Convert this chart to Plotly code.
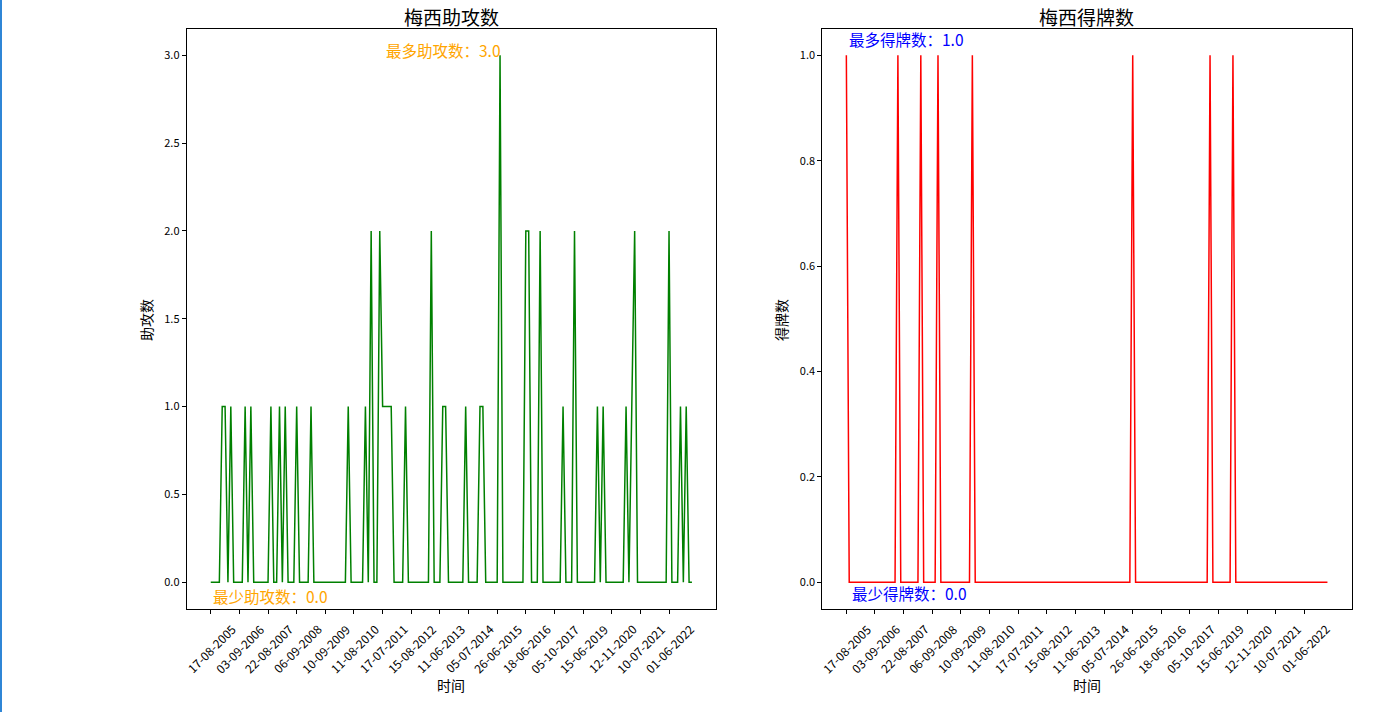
import plotly.graph_objects as go

# ---------------- data ----------------
tick_labels = ["17-08-2005", "03-09-2006", "22-08-2007", "06-09-2008", "10-09-2009",
               "11-08-2010", "17-07-2011", "15-08-2012", "11-06-2013", "05-07-2014",
               "26-06-2015", "18-06-2016", "05-10-2017", "15-06-2019", "12-11-2020",
               "10-07-2021", "01-06-2022"]

assists = [0, 0, 0, 0, 1, 1, 0, 1, 0, 0,
           0, 0, 1, 0, 1, 0, 0, 0, 0, 0,
           0, 1, 0, 0, 1, 0, 1, 0, 0, 0,
           1, 0, 0, 0, 0, 1, 0, 0, 0, 0,
           0, 0, 0, 0, 0, 0, 0, 0, 1, 0,
           0, 0, 0, 0, 1, 0, 2, 0, 0, 2,
           1, 1, 1, 1, 0, 0, 0, 0, 1, 0,
           0, 0, 0, 0, 0, 0, 0, 2, 0, 0,
           0, 1, 1, 0, 0, 0, 0, 0, 0, 1,
           0, 0, 0, 0, 1, 1, 0, 0, 0, 0,
           0, 3, 0, 0, 0, 0, 0, 0, 0, 0,
           2, 2, 0, 0, 0, 2, 0, 0, 0, 0,
           0, 0, 0, 1, 0, 0, 0, 2, 0, 0,
           0, 0, 0, 0, 0, 1, 0, 1, 0, 0,
           0, 0, 0, 0, 0, 1, 0, 1, 2, 0,
           0, 0, 0, 0, 0, 0, 0, 0, 0, 0,
           2, 0, 0, 0, 1, 0, 1, 0, 0]

cards = [1, 0, 0, 0, 0, 0, 0, 0, 0, 0,
         0, 0, 0, 0, 0, 0, 0, 0, 1, 0,
         0, 0, 0, 0, 0, 0, 1, 0, 0, 0,
         0, 0, 1, 0, 0, 0, 0, 0, 0, 0,
         0, 0, 0, 0, 1, 0, 0, 0, 0, 0,
         0, 0, 0, 0, 0, 0, 0, 0, 0, 0,
         0, 0, 0, 0, 0, 0, 0, 0, 0, 0,
         0, 0, 0, 0, 0, 0, 0, 0, 0, 0,
         0, 0, 0, 0, 0, 0, 0, 0, 0, 0,
         0, 0, 0, 0, 0, 0, 0, 0, 0, 0,
         1, 0, 0, 0, 0, 0, 0, 0, 0, 0,
         0, 0, 0, 0, 0, 0, 0, 0, 0, 0,
         0, 0, 0, 0, 0, 0, 0, 1, 0, 0,
         0, 0, 0, 0, 0, 1, 0, 0, 0, 0,
         0, 0, 0, 0, 0, 0, 0, 0, 0, 0,
         0, 0, 0, 0, 0, 0, 0, 0, 0, 0,
         0, 0, 0, 0, 0, 0, 0, 0, 0]

matches = list(range(len(assists)))
tick_pos = matches[::10][:len(tick_labels)]

# ---------------- figure ----------------
FONT = "Noto Sans CJK SC"
W, H = 1381, 712

def px(xp):
    return xp / W

def py(yp):
    return 1 - yp / H

fig = go.Figure()
fig.add_trace(go.Scatter(x=matches, y=assists, mode="lines",
                         line=dict(color="#008000", width=1.5),
                         xaxis="x", yaxis="y", showlegend=False, hoverinfo="skip"))
fig.add_trace(go.Scatter(x=matches, y=cards, mode="lines",
                         line=dict(color="#ff0000", width=1.5),
                         xaxis="x2", yaxis="y2", showlegend=False, hoverinfo="skip"))

n = len(matches) - 1
xr = [-0.05 * n, n + 0.05 * n]

common = dict(showline=True, linecolor="black", linewidth=1, mirror=True,
              ticks="outside", ticklen=4, tickwidth=1, tickcolor="black",
              showgrid=False, zeroline=False,
              tickfont=dict(family=FONT, size=11, color="black"))

ydom = [py(608.5), py(29)]
dom1 = [px(186.7), px(716)]
dom2 = [px(822.3), px(1351.5)]

fig.update_layout(
    width=W, height=H, margin=dict(l=0, r=0, t=0, b=0),
    paper_bgcolor="white", plot_bgcolor="white",
    xaxis=dict(domain=dom1, range=xr, tickvals=tick_pos, showticklabels=False,
               anchor="y", **common),
    yaxis=dict(domain=ydom, range=[-0.15, 3.15], tickvals=[0, 0.5, 1, 1.5, 2, 2.5, 3],
               tickformat=".1f", anchor="x", **common),
    xaxis2=dict(domain=dom2, range=xr, tickvals=tick_pos, showticklabels=False,
                anchor="y2", **common),
    yaxis2=dict(domain=ydom, range=[-0.05, 1.05], tickvals=[0, 0.2, 0.4, 0.6, 0.8, 1.0],
                tickformat=".1f", anchor="x2", **common),
)

ann = []
# rotated x tick labels (centered under ticks)
for xref in ["x", "x2"]:
    for p, lab in zip(tick_pos, tick_labels):
        ann.append(dict(x=p, xref=xref, y=py(648), yref="paper", text=lab,
                        textangle=-45, showarrow=False, xanchor="center", yanchor="middle",
                        font=dict(family=FONT, size=12, color="black")))

# titles
for dom, t in [(dom1, "梅西助攻数"), (dom2, "梅西得牌数")]:
    ann.append(dict(x=(dom[0] + dom[1]) / 2, xref="paper", y=py(16), yref="paper", text=t,
                    showarrow=False, xanchor="center", yanchor="middle",
                    font=dict(family=FONT, size=19, color="black")))
    ann.append(dict(x=(dom[0] + dom[1]) / 2, xref="paper", y=py(685), yref="paper", text="时间",
                    showarrow=False, xanchor="center", yanchor="middle",
                    font=dict(family=FONT, size=14, color="black")))
ann.append(dict(x=px(146), xref="paper", y=py(320), yref="paper", text="助攻数", textangle=-90,
                showarrow=False, xanchor="center", yanchor="middle",
                font=dict(family=FONT, size=14, color="black")))
ann.append(dict(x=px(781), xref="paper", y=py(320), yref="paper", text="得牌数", textangle=-90,
                showarrow=False, xanchor="center", yanchor="middle",
                font=dict(family=FONT, size=14, color="black")))

# max / min notes
a_max, a_min = max(assists), min(assists)
c_max, c_min = max(cards), min(cards)
NOTE = 15.5
ann.append(dict(x=assists.index(a_max), xref="x", y=a_max, yref="y",
                text=f"最多助攻数：{float(a_max):.1f}", showarrow=False,
                xanchor="right", yanchor="middle", xshift=3, yshift=5,
                font=dict(family=FONT, size=NOTE, color="#FFA500")))
ann.append(dict(x=assists.index(a_min), xref="x", y=a_min, yref="y",
                text=f"最少助攻数：{float(a_min):.1f}", showarrow=False,
                xanchor="left", yanchor="middle", xshift=0, yshift=-14,
                font=dict(family=FONT, size=NOTE, color="#FFA500")))
ann.append(dict(x=cards.index(c_max), xref="x2", y=c_max, yref="y2",
                text=f"最多得牌数：{float(c_max):.1f}", showarrow=False,
                xanchor="left", yanchor="middle", xshift=1, yshift=16,
                font=dict(family=FONT, size=NOTE, color="#0000FF")))
ann.append(dict(x=cards.index(c_min), xref="x2", y=c_min, yref="y2",
                text=f"最少得牌数：{float(c_min):.1f}", showarrow=False,
                xanchor="left", yanchor="middle", xshift=1, yshift=-11,
                font=dict(family=FONT, size=NOTE, color="#0000FF")))

fig.update_layout(annotations=ann)

# notebook cell marker at left edge
fig.add_shape(type="line", xref="paper", yref="paper", x0=px(1), x1=px(1), y0=0, y1=1,
              line=dict(color="#2f86d6", width=2))

fig.write_html("out.html", config={"displayModeBar": False},
               post_script="document.body.style.margin='0';document.body.style.overflow='hidden';")
